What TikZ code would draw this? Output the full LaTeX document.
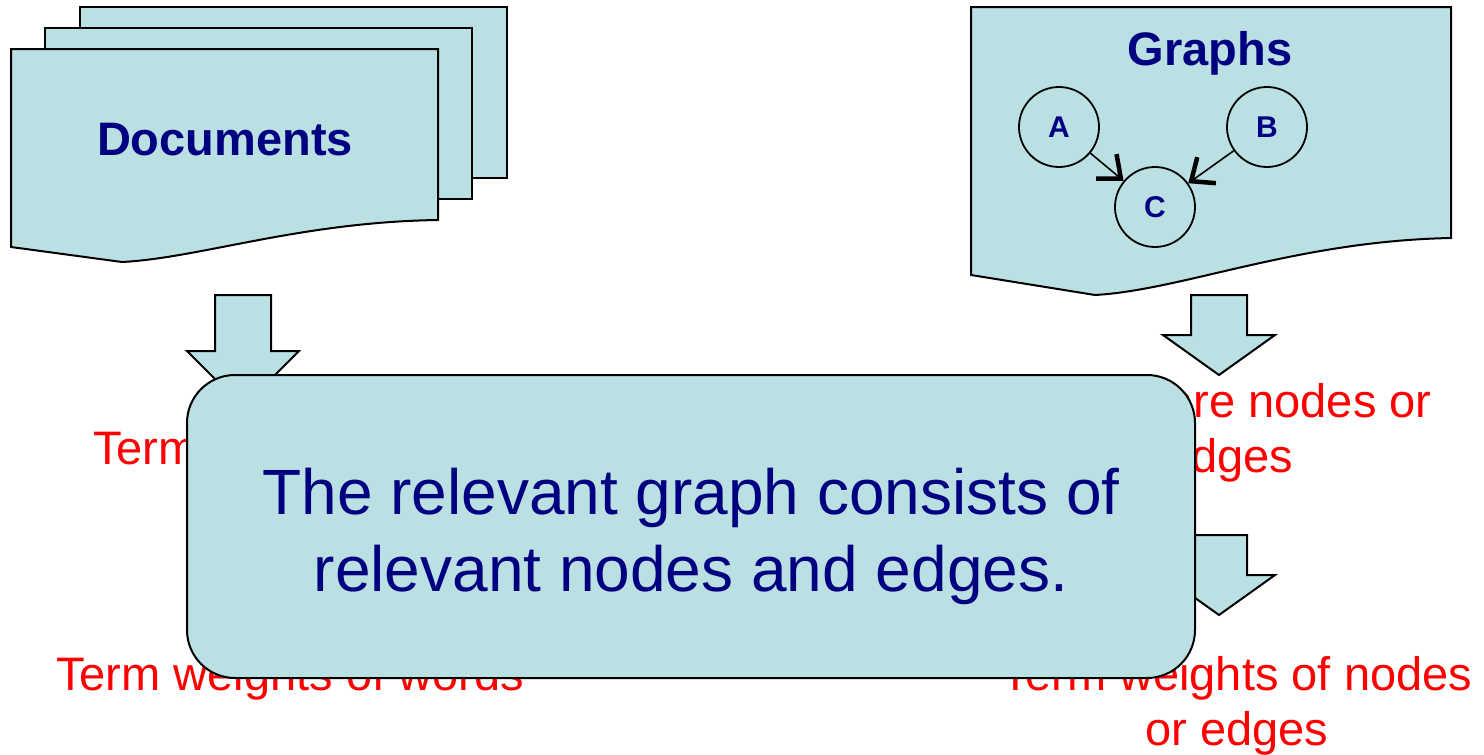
\documentclass[tikz,border=0pt]{standalone}
\usepackage{fontspec}
\setmainfont{Liberation Sans}
\usetikzlibrary{arrows.meta,calc}
\definecolor{boxfill}{RGB}{187,224,227}
\definecolor{navytext}{RGB}{0,0,128}
\definecolor{redtext}{RGB}{255,0,0}
\begin{document}
\begin{tikzpicture}[x=1pt,y=-1pt,
  shapeline/.style={draw=black,line width=2pt,fill=boxfill,line join=miter},
  blockarrow/.style={draw=black,line width=2pt,fill=boxfill,line join=miter},
  titletext/.style={anchor=base,inner sep=0pt,text=navytext,font=\fontsize{47}{56}\selectfont\bfseries},
  redlabel/.style={anchor=base,inner sep=0pt,text=redtext,font=\fontsize{47}{56}\selectfont},
  gnode/.style={circle,draw=black,line width=1.8pt,fill=boxfill,minimum size=80pt,inner sep=0pt,
    text=navytext,font=\fontsize{30}{34}\selectfont\bfseries},
  garrow/.style={draw=black,line width=1.6pt,-{Straight Barb[length=19pt,width=32pt,line width=4.5pt]}},
  mainbox/.style={draw=black,line width=2pt,fill=boxfill,rounded corners=48pt,
    minimum width=1008pt,minimum height=303pt,inner sep=0pt},
  maintext/.style={anchor=base,inner sep=0pt,text=navytext,font=\fontsize{64}{77}\selectfont}]
\useasboundingbox (0,0) rectangle (1484,755);

% ---- Documents stack
\path[shapeline] (80,7) rectangle (507,178);
\path[shapeline] (45,28) rectangle (472,199);
\path[shapeline] (11,49) -- (438,49) -- (438,220)
  .. controls (300,222) and (200,258) .. (122,262) -- (11,247) -- cycle;
\node[titletext] (doc) at (225,155) {Documents};

% ---- Graphs document
\path[shapeline] (971,7) -- (1451,7) -- (1451,238)
  .. controls (1296,241) and (1183,290) .. (1095,295) -- (971,275) -- cycle;
\node[titletext] (gtitle) at (1210,65) {Graphs};
\node[gnode] (A) at (1059,127) {A};
\node[gnode] (B) at (1267,127) {B};
\node[gnode] (C) at (1155,207) {C};
\draw[garrow] (A) -- (C);
\draw[garrow] (B) -- (C);

% ---- Block arrows
\path[blockarrow] (215,295) -- (271,295) -- (271,351) -- (299,351) -- (243,407) -- (187,351) -- (215,351) -- cycle;
\path[blockarrow] (1191,295) -- (1247,295) -- (1247,335) -- (1275,335) -- (1219,375) -- (1163,335) -- (1191,335) -- cycle;
\path[blockarrow] (1191,535) -- (1247,535) -- (1247,575) -- (1275,575) -- (1219,615) -- (1163,575) -- (1191,575) -- cycle;

% ---- Red labels
\node[redlabel,anchor=base west] (lt) at (93,464) {Terms};
\node[redlabel] (rt1) at (1229,417) {Terms are nodes or};
\node[redlabel] (rt2) at (1229,472) {edges};
\node[redlabel] (lb) at (290,690) {Term weights of words};
\node[redlabel] (rb1) at (1237,690) {Term weights of nodes};
\node[redlabel] (rb2) at (1237,745) {or edges};

% ---- Main callout box
\node[mainbox] (main) at (691,526.5) {};
\node[maintext] (m1) at (691,514) {The relevant graph consists of};
\node[maintext] (m2) at (691,591) {relevant nodes and edges.};
\end{tikzpicture}
\end{document}
